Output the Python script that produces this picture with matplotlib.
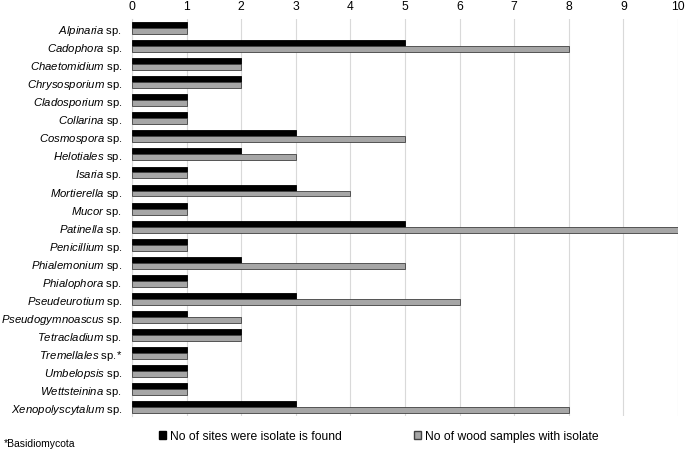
import matplotlib
matplotlib.use("Agg")
import matplotlib.pyplot as plt
import numpy as np
from matplotlib.patches import Patch

plt.rcParams['font.family'] = ['Liberation Sans', 'DejaVu Sans']
plt.rcParams['mathtext.fontset'] = 'custom'
plt.rcParams['mathtext.rm'] = 'Liberation Sans'
plt.rcParams['mathtext.it'] = 'Liberation Sans:italic'

genera = ["Alpinaria", "Cadophora", "Chaetomidium", "Chrysosporium", "Cladosporium",
          "Collarina", "Cosmospora", "Helotiales", "Isaria", "Mortierella", "Mucor",
          "Patinella", "Penicillium", "Phialemonium", "Phialophora", "Pseudeurotium",
          "Pseudogymnoascus", "Tetracladium", "Tremellales", "Umbelopsis",
          "Wettsteinina", "Xenopolyscytalum"]
suffix = [" sp."] * len(genera)
suffix[genera.index("Tremellales")] = " sp.*"
sites = [1, 5, 2, 2, 1, 1, 3, 2, 1, 3, 1, 5, 1, 2, 1, 3, 1, 2, 1, 1, 1, 3]
samples = [1, 8, 2, 2, 1, 1, 5, 3, 1, 4, 1, 10, 1, 5, 1, 6, 2, 2, 1, 1, 1, 8]
xticks = list(range(0, 11))

fig = plt.figure(figsize=(6.85, 4.52), dpi=100)
ax = fig.add_axes([0.1927, 0.0774, 0.797, 0.878])

y = np.arange(len(genera))
h = 0.33
ax.barh(y - h / 2, sites, height=h, color='black', edgecolor='black', linewidth=0.6, zorder=3)
ax.barh(y + h / 2, samples, height=h, color='#a6a6a6', edgecolor='#404040', linewidth=0.6, zorder=3)

ax.set_ylim(len(genera) - 0.5, -0.5)
ax.set_xlim(0, 10)
ax.xaxis.tick_top()
ax.set_xticks(xticks)
ax.tick_params(axis='x', length=0, labelsize=8.7, pad=5)
ax.tick_params(axis='y', length=0, labelsize=8.2, pad=7)
ax.set_yticks(y)
ax.set_yticklabels([r"$\mathit{" + g + "}$" + s for g, s in zip(genera, suffix)])

ax.grid(axis='x', color='#d9d9d9', linewidth=0.8, zorder=0)
for sp in ['top', 'right', 'bottom']:
    ax.spines[sp].set_visible(False)
ax.spines['left'].set_color('#d9d9d9')
ax.spines['left'].set_linewidth(0.8)

handles = [Patch(facecolor='black', edgecolor='black', label='No of sites were isolate is found'),
           Patch(facecolor='#a6a6a6', edgecolor='#404040', label='No of wood samples with isolate')]
fig.legend(handles=handles, loc='center', bbox_to_anchor=(0.553, 0.033), ncol=2, frameon=False,
           fontsize=8.7, handlelength=0.6, handleheight=0.6, handletextpad=0.3, columnspacing=6.0)
fig.text(0.006, 0.006, "*Basidiomycota", fontsize=7.5, ha='left', va='bottom')

fig.savefig("out.png", dpi=100)
